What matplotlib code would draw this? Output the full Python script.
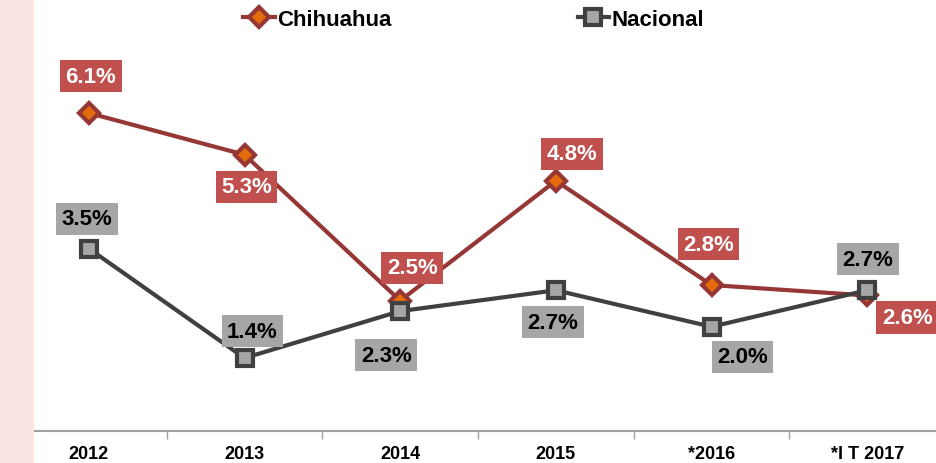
import numpy as np
import matplotlib
matplotlib.use('Agg')
import matplotlib.pyplot as plt
from matplotlib.patches import Rectangle

plt.rcParams['font.family'] = ['Liberation Sans', 'DejaVu Sans']

# data
years = ['2012', '2013', '2014', '2015', '*2016', '*I T 2017']
chihuahua = [6.1, 5.3, 2.5, 4.8, 2.8, 2.6]
nacional = [3.5, 1.4, 2.3, 2.7, 2.0, 2.7]

# label offsets in pixels (dx, dy) from each point
chi_off = [(2, 37), (2, -32), (12, 33), (16, 27), (-3, 41), (40, -22)]
nac_off = [(-2, 30), (8, 27), (-14, -44), (-3, -32), (31, -30), (1, 31)]

W, H = 936, 464
fig = plt.figure(figsize=(W / 100, H / 100), dpi=100)
fig.patches.append(Rectangle((0, 0), 34 / W, 1, transform=fig.transFigure,
                             facecolor='#fce4e2', edgecolor='none', zorder=0))

ax = fig.add_axes([11 / W, (H - 432) / H, 934 / W, 417 / H])
ax.patch.set_alpha(0)

x = np.arange(len(years))
ax.plot(x, chihuahua, color='#953735', lw=3, marker='D', ms=10,
        mfc='#e46c0a', mec='#953735', mew=3, label='Chihuahua', zorder=3)
ax.plot(x, nacional, color='#404040', lw=3, marker='s', ms=11,
        mfc='#a6a6a6', mec='#404040', mew=3, label='Nacional', zorder=4)

for xi, v, (dx, dy) in zip(x, chihuahua, chi_off):
    ax.annotate('{0:.1f}%'.format(v), (xi, v), xytext=(dx, dy),
                textcoords='offset pixels', ha='center', va='center',
                fontsize=16, fontweight='bold', color='white', zorder=5,
                bbox=dict(boxstyle='square,pad=0.25', fc='#c0504d', ec='none'))
for xi, v, (dx, dy) in zip(x, nacional, nac_off):
    ax.annotate('{0:.1f}%'.format(v), (xi, v), xytext=(dx, dy),
                textcoords='offset pixels', ha='center', va='center',
                fontsize=16, fontweight='bold', color='black', zorder=5,
                bbox=dict(boxstyle='square,pad=0.25', fc='#a6a6a6', ec='none'))

ax.set_xlim(-0.5, len(years) - 0.5)
ax.set_ylim(0, 8)
ax.set_yticks([])
ax.set_xticks(x)
ax.set_xticklabels(years, fontsize=13, fontweight='bold')
ax.set_xticks(np.arange(-0.5, len(years)), minor=True)
ax.tick_params(axis='x', which='major', length=0, pad=10)
ax.tick_params(axis='x', which='minor', length=6, color='#a0a0a0', width=1)
for s in ['top', 'right', 'left']:
    ax.spines[s].set_visible(False)
ax.spines['bottom'].set_color('#a0a0a0')
ax.spines['bottom'].set_linewidth(1.5)

leg = fig.legend(loc='center', bbox_to_anchor=(0.506, (H - 20) / H), ncol=2,
                 frameon=False, columnspacing=8.4, handlelength=1.4,
                 handletextpad=0.1, borderpad=0,
                 prop={'size': 16, 'weight': 'bold'})

fig.savefig('out.png', dpi=100)
